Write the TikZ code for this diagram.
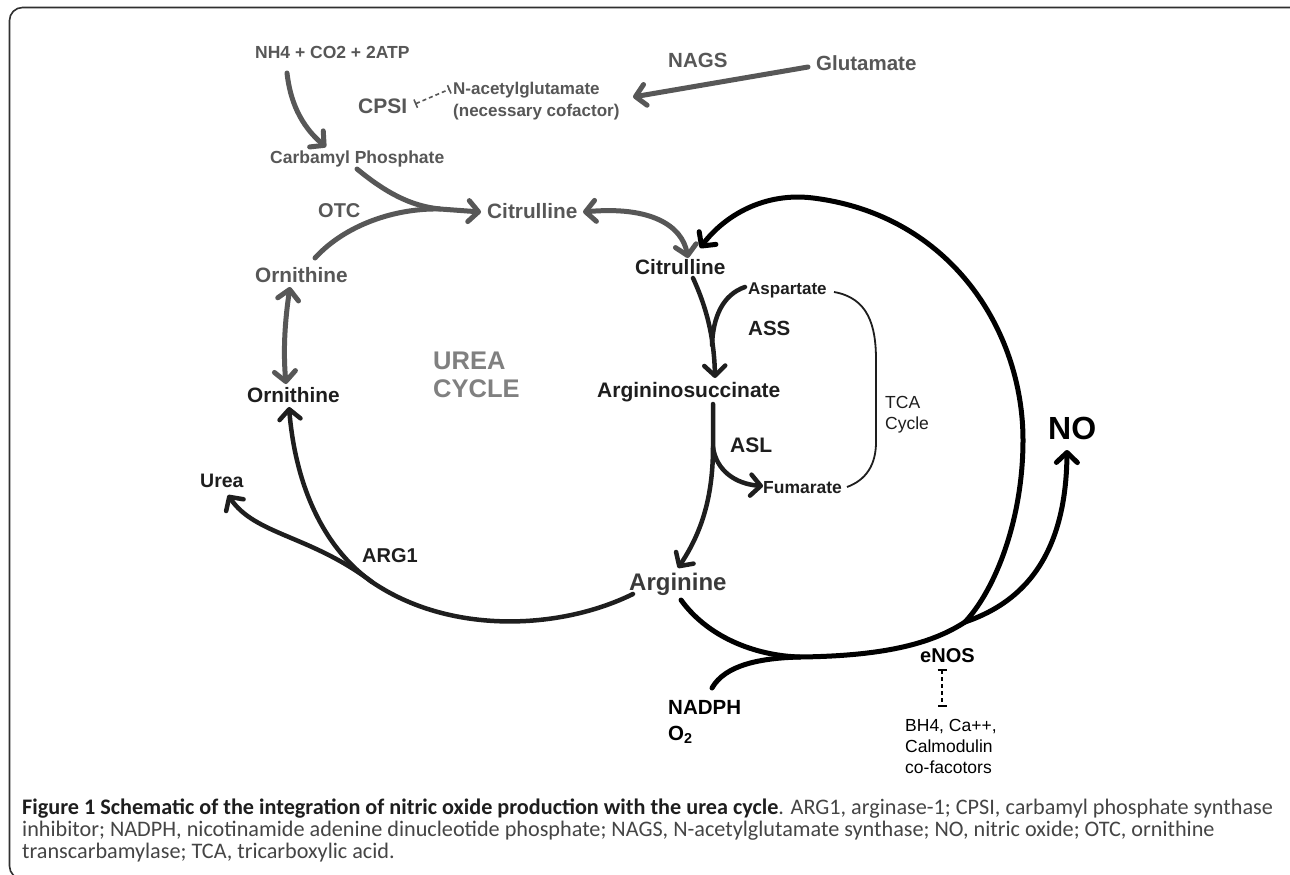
\documentclass[tikz,border=0pt]{standalone}
\usepackage{fontspec}
\setmainfont{Liberation Sans}
\newfontfamily\capfont{Carlito}
\usetikzlibrary{arrows.meta}
\definecolor{gr}{HTML}{575757}
\definecolor{lg}{HTML}{808080}
\definecolor{bk}{HTML}{1e1e1e}
\definecolor{ag}{HTML}{3a3a3a}
\definecolor{fr}{HTML}{303030}
\definecolor{capc}{HTML}{454545}
\tikzset{
  lab/.style={inner sep=0pt, anchor=base west},
  bf/.style={font=\fontsize{#1}{#1}\selectfont\bfseries},
  rg/.style={font=\fontsize{#1}{#1}\selectfont},
  tip/.style={-{Straight Barb[length=10pt,width=21pt,round]}},
  dtip/.style={{Straight Barb[length=10pt,width=21pt,round]}-{Straight Barb[length=10pt,width=21pt,round]}},
  gline/.style={draw=gr, line width=5pt, line cap=round},
  bline/.style={draw=bk, line width=4.5pt, line cap=round},
  kline/.style={draw=black, line width=5pt, line cap=round},
  inhib/.style={line width=1.6pt, dash pattern=on 4pt off 3pt, {Bar[width=9pt]}-{Bar[width=9pt]}},
  capt/.style={inner sep=0pt, anchor=base west, text=capc, font=\capfont\fontsize{22.2}{22}\selectfont},
}
\begin{document}
\begin{tikzpicture}[x=1pt,y=-1pt]
\useasboundingbox (0,0) rectangle (1290,875);
\fill[white] (0,0) rectangle (1290,875);
\draw[fr, line width=1.6pt, rounded corners=13pt] (1300,7.5) -- (9.5,7.5) -- (9.5,879) -- (60,879);

% ---- gray (upper-left) labels
\node[lab,bf=17.5,text=gr] (nh4) at (255,59) {NH4 + CO2 + 2ATP};
\node[lab,bf=21,text=gr] (cpsi) at (358,113.5) {CPSI};
\node[lab,bf=17,text=gr] (nacet) at (453,94) {N-acetylglutamate};
\node[lab,bf=17,text=gr] (ncof) at (453,116) {(necessary cofactor)};
\node[lab,bf=20.5,text=gr] (nags) at (668,67.3) {NAGS};
\node[lab,bf=20.5,text=gr] (glu) at (816,70.3) {Glutamate};
\node[lab,bf=17.5,text=gr] (carb) at (270,163.3) {Carbamyl Phosphate};
\node[lab,bf=20,text=gr] (otc) at (318,217) {OTC};
\node[lab,bf=20.8,text=gr] (cit1) at (487,218.5) {Citrulline};
\node[lab,bf=20.8,text=gr] (orn1) at (255,282.5) {Ornithine};
\node[lab,bf=25.5,text=lg] (urea1) at (433,369) {UREA};
\node[lab,bf=25.5,text=lg] (urea2) at (433,397) {CYCLE};

% ---- black labels
\node[lab,bf=20.8,text=bk] (cit2) at (635,274.5) {Citrulline};
\node[lab,bf=20.8,text=bk] (orn2) at (247,402.5) {Ornithine};
\node[lab,bf=17,text=bk] (asp) at (748,294) {Aspartate};
\node[lab,bf=20.5,text=bk] (ass) at (748,335) {ASS};
\node[lab,bf=21,text=bk] (argsuc) at (597,397.5) {Argininosuccinate};
\node[lab,rg=17.5,text=bk] (tca1) at (885,408) {TCA};
\node[lab,rg=17.5,text=bk] (tca2) at (885,429) {Cycle};
\node[lab,bf=32,text=black] (no) at (1048,439.5) {NO};
\node[lab,bf=21,text=bk] (asl) at (730,452.5) {ASL};
\node[lab,bf=17.5,text=bk] (fum) at (763,493) {Fumarate};
\node[lab,bf=19.5,text=bk] (urea) at (200,487) {Urea};
\node[lab,bf=20,text=bk] (arg1) at (362,562) {ARG1};
\node[lab,bf=24,text=ag] (arg) at (629,590.6) {Arginine};
\node[lab,bf=20,text=black] (enos) at (920,662) {eNOS};
\node[lab,bf=20.5,text=black] (nadph) at (668,714) {NADPH};
\node[lab,bf=20.5,text=black] (o2) at (668,740) {O\textsubscript{2}};
\node[lab,rg=17.5,text=black] (bh4) at (905,731) {BH4, Ca++,};
\node[lab,rg=17.5,text=black] (calm) at (905,752) {Calmodulin};
\node[lab,rg=17.5,text=black] (cofac) at (905,773) {co-facotors};

% ---- caption
\node[capt] (cap1) at (22,814)
  {\textcolor{bk}{\bfseries Figure 1 Schematic of the integration of nitric oxide production with the urea cycle}. ARG1, arginase-1; CPSI, carbamyl phosphate synthase};
\node[capt] (cap2) at (22,836)
  {inhibitor; NADPH, nicotinamide adenine dinucleotide phosphate; NAGS, N-acetylglutamate synthase; NO, nitric oxide; OTC, ornithine};
\node[capt] (cap3) at (22,858)
  {transcarbamylase; TCA, tricarboxylic acid.};

% ---- connector end points
\coordinate (nh4s) at (287,73);
\coordinate (carbn) at (326,147);
\coordinate (carbs) at (357,169);
\coordinate (otcm) at (440,209);
\coordinate (cit1w) at (481,212);
\coordinate (orn1n) at (315,258);
\coordinate (cit1e) at (583,212);
\coordinate (cit2n) at (688,258);
\coordinate (orn1s) at (290,287);
\coordinate (orn2n) at (286,384);
\coordinate (glw) at (808,67);
\coordinate (nacte) at (633,97);
\coordinate (cpsie) at (415,104);
\coordinate (nactw) at (450,89);
\coordinate (cit2s) at (693,278);
\coordinate (argsn) at (715,378);
\coordinate (aspw) at (745,287);
\coordinate (aspm) at (712,345);
\coordinate (argss) at (713,404);
\coordinate (aslm) at (713,447);
\coordinate (argn) at (678,568);
\coordinate (fumw) at (763,486);
\coordinate (aspe) at (834,292);
\coordinate (fume) at (847,487);
\coordinate (argw) at (633,594);
\coordinate (ureab) at (372,582);
\coordinate (orn2s) at (289,407);
\coordinate (ureas) at (228,495);
\coordinate (args) at (681,600);
\coordinate (nadm) at (800,657);
\coordinate (nadn) at (712,688);
\coordinate (jn) at (965,622);
\coordinate (cit2e) at (700,248);
\coordinate (nos) at (1067,450);
\coordinate (enoss) at (942,669);
\coordinate (bh4n) at (942,707);

% ---- gray connectors
\draw[gline,tip] (nh4s) .. controls (290,100) and (300,125) .. (carbn);
\draw[gline,tip] (carbs) .. controls (385,192) and (410,206) .. (otcm) -- (cit1w);
\draw[gline] (orn1n) .. controls (345,225) and (395,208) .. (otcm);
\draw[gline,dtip] (cit1e) .. controls (650,206) and (682,225) .. (cit2n);
\draw[gline,dtip] (orn1s) .. controls (285,320) and (283,350) .. (orn2n);
\draw[gline,tip] (glw) -- (nacte);
\draw[gr,inhib] (cpsie) -- (nactw);

% ---- black connectors
\draw[bline,tip] (cit2s) .. controls (703,300) and (714,330) .. (argsn);
\draw[bline] (aspw) .. controls (722,295) and (713,318) .. (aspm);
\draw[bline,tip] (argss) -- (aslm) .. controls (713,500) and (700,535) .. (argn);
\draw[bline,tip] (aslm) .. controls (716,470) and (735,484) .. (fumw);
\draw[bk,line width=1.8pt] (aspe) .. controls (868,298) and (876,325) .. (876,360) -- (876,442) .. controls (876,465) and (866,480) .. (fume);
\draw[bline,tip] (argw) .. controls (560,630) and (450,635) .. (ureab) .. controls (320,545) and (295,480) .. (orn2s);
\draw[bline,tip] (ureab) .. controls (310,535) and (255,535) .. (ureas);
\draw[kline] (args) .. controls (710,640) and (760,656) .. (nadm) .. controls (880,656) and (930,645) .. (jn);
\draw[kline] (nadn) .. controls (725,665) and (760,658) .. (nadm);
\draw[kline,tip] (jn) .. controls (995,590) and (1023,520) .. (1023,440) .. controls (1023,330) and (950,215) .. (813,198) .. controls (765,192) and (725,215) .. (cit2e);
\draw[kline,tip] (jn) .. controls (1015,605) and (1066,565) .. (nos);
\draw[black,inhib] (enoss) -- (bh4n);
\end{tikzpicture}
\end{document}
